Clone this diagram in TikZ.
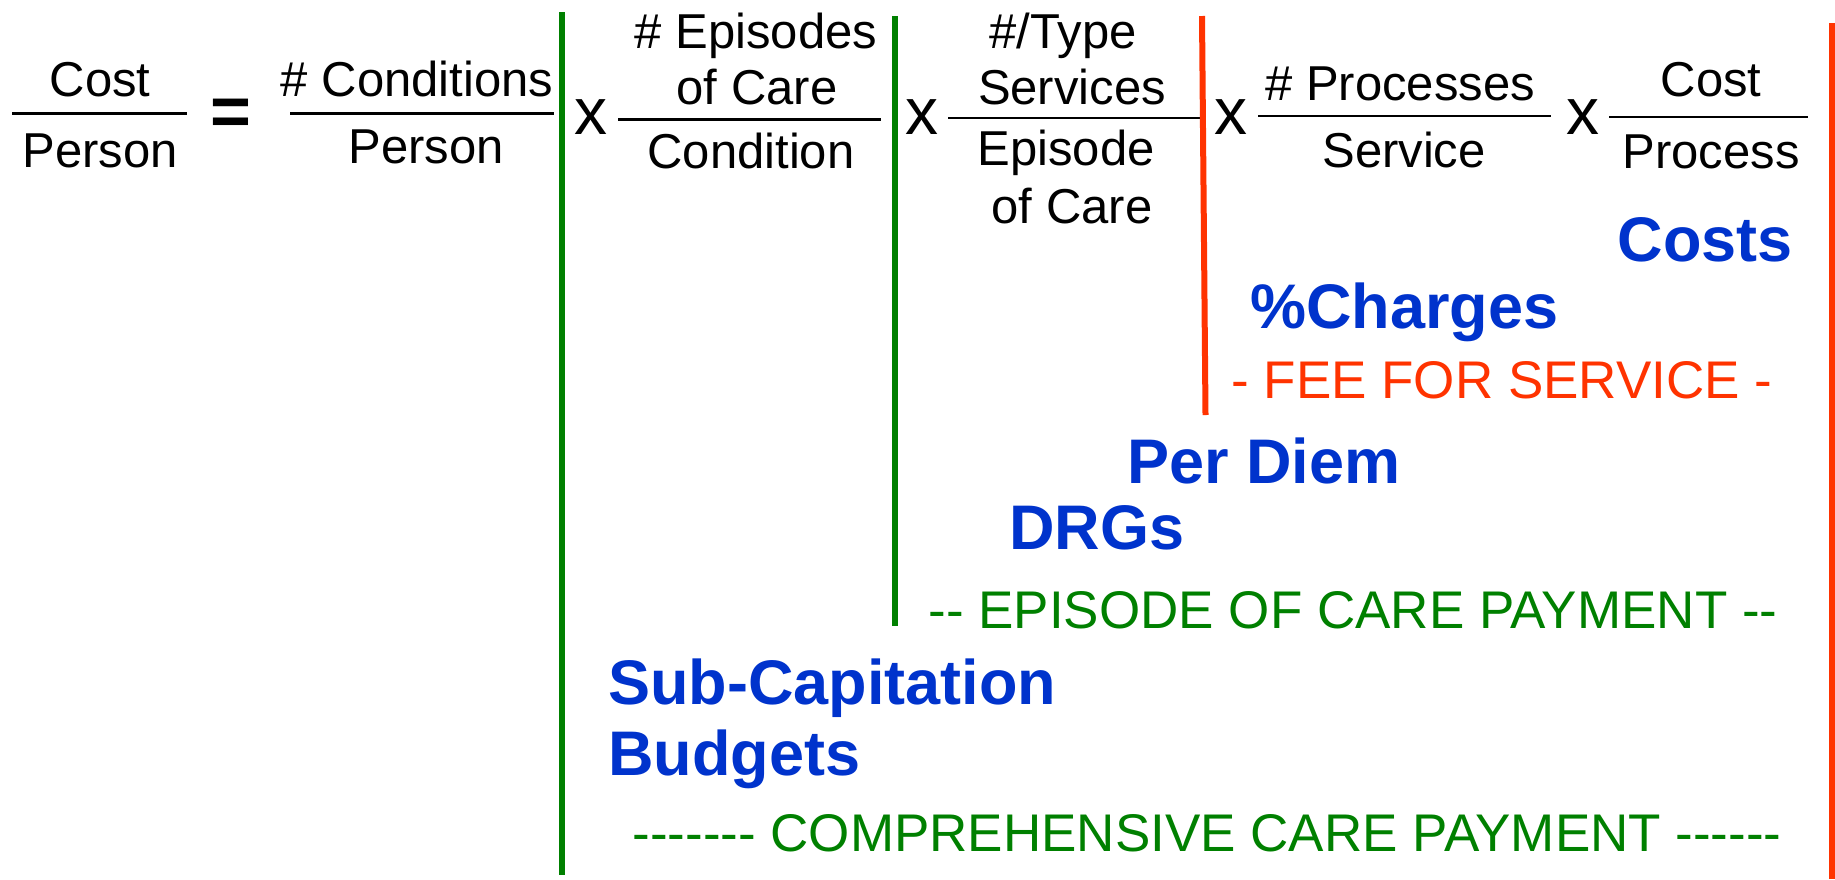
\documentclass[tikz,border=0pt]{standalone}
\usepackage{fontspec}
\setmainfont{Liberation Sans}
% same face without TeX dash ligatures, so runs of hyphens stay hyphens
\newfontfamily\bandfont{Liberation Sans}
\definecolor{payGreen}{HTML}{008000}
\definecolor{payBlue}{HTML}{0033CC}
\definecolor{payRed}{HTML}{FF3300}
\begin{document}
\begin{tikzpicture}[x=0.5pt,y=-0.5pt,
  term/.style={anchor=base,inner sep=0pt,font=\fontsize{24.5}{24.5}\selectfont},
  times/.style={anchor=base,inner sep=0pt,font=\fontsize{33}{33}\selectfont},
  model/.style={anchor=base west,inner sep=0pt,text=payBlue,font=\fontsize{31.5}{31.5}\selectfont\bfseries},
  band/.style={anchor=base west,inner sep=0pt,font=\bandfont\fontsize{26.5}{26.5}\selectfont},
  bar/.style={line width=1.2pt},
  greenrule/.style={payGreen,line width=3pt},
  redrule/.style={payRed,line width=3pt}]
\useasboundingbox (0,0) rectangle (1835,879);

% cost per person
\node[term] (costL) at (100,96) {Cost};
\draw[bar] (12,113.5) -- (187,113.5);
\node[term] (personL) at (100,167) {Person};
\node[anchor=center,inner sep=0pt,font=\fontsize{35}{35}\selectfont\bfseries] (eq) at (231,117) {=};

% conditions per person
\node[term] (cond) at (417,96) {\# Conditions};
\draw[bar] (290,113.5) -- (554,113.5);
\node[term] (person) at (426,163) {Person};

% comprehensive care divider
\coordinate (g1top) at (562,12);
\coordinate (g1bot) at (562,875);
\draw[greenrule] (g1top) -- (g1bot);

\node[times] (x1) at (591,134) {x};
\node[term] (epi1) at (756,48) {\# Episodes};
\node[term] (epi2) at (757,104) {of Care};
\draw[bar] (618,119.5) -- (881,119.5);
\node[term] (condD) at (751,168) {Condition};

% episode of care divider
\coordinate (g2top) at (895,16);
\coordinate (g2bot) at (895,626);
\draw[greenrule] (g2top) -- (g2bot);

\node[times] (x2) at (922,134) {x};
\node[term] (typ1) at (1063,48) {\#/Type};
\node[term] (typ2) at (1072,104) {Services};
\draw[bar] (948,118) -- (1200,118);
\node[term] (typ3) at (1066,165) {Episode};
\node[term] (typ4) at (1072,223) {of Care};

% fee for service divider
\coordinate (rtop) at (1202,16);
\coordinate (rbot) at (1205.5,415);
\draw[redrule] (rtop) -- (rbot);

\node[times] (x3) at (1231,134) {x};
\node[term] (proc) at (1400,100) {\# Processes};
\draw[bar] (1258,116) -- (1551,116);
\node[term] (serv) at (1404,167) {Service};

\node[times] (x4) at (1583,134) {x};
\node[term] (costR) at (1711,96) {Cost};
\draw[bar] (1609,117) -- (1808,117);
\node[term] (procD) at (1711,168) {Process};

% right edge
\coordinate (etop) at (1832,23);
\coordinate (ebot) at (1832,879);
\draw[redrule] (etop) -- (ebot);

% payment models
\node[model,anchor=base east] (costs) at (1793,261) {Costs};
\node[model] (charges) at (1250,328) {\%Charges};
\node[band,text=payRed] (ffs) at (1231,398) {- FEE FOR SERVICE -};

\node[model] (perdiem) at (1127,483) {Per Diem};
\node[model] (drg) at (1009,549) {DRGs};
\node[band,text=payGreen] (eoc) at (928,628) {-- EPISODE OF CARE PAYMENT --};

\node[model] (subcap) at (608,704) {Sub-Capitation};
\node[model] (budget) at (608,775) {Budgets};
\node[band,text=payGreen] (ccp) at (632,851) {------- COMPREHENSIVE CARE PAYMENT ------};
\end{tikzpicture}
\end{document}
